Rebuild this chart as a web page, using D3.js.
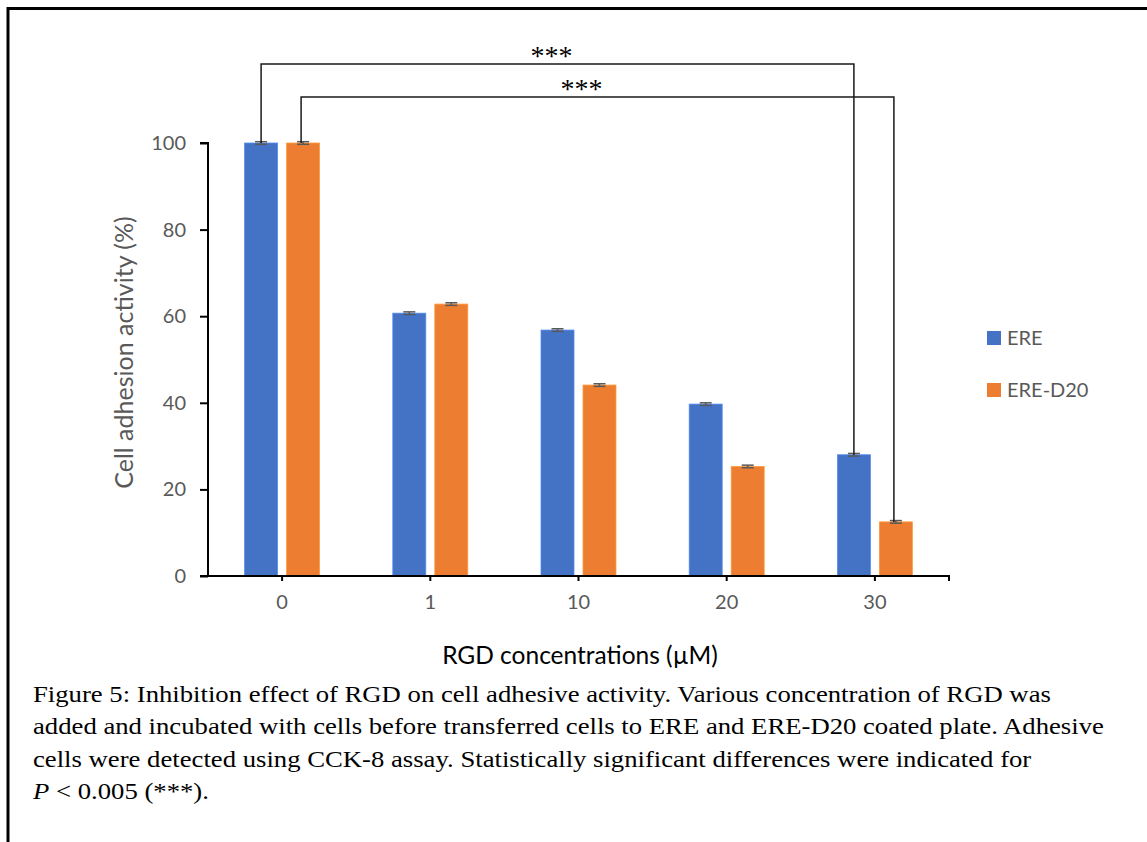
<!DOCTYPE html>
<html>
<head>
<meta charset="utf-8">
<script src="https://cdn.jsdelivr.net/npm/d3@7"></script>
<style>
  html, body { margin: 0; padding: 0; background: #fff; }
  svg { display: block; }
</style>
</head>
<body>
<svg id="chart" width="1147" height="842"></svg>
<script>
// ---- data ----
const categories = ["0", "1", "10", "20", "30"];
const seriesNames = ["ERE", "ERE-D20"];
const ereValues = [100, 60.7, 56.8, 39.7, 28.0];
const ereD20Values = [100, 62.8, 44.1, 25.3, 12.5];
const ereErrors = [0.3, 0.3, 0.3, 0.3, 0.3];
const ereD20Errors = [0.3, 0.3, 0.3, 0.3, 0.3];
const yTicks = [0, 20, 40, 60, 80, 100];
const seriesColors = ["#4472C4", "#ED7D31"];
const yTitle = "Cell adhesion activity (%)";
const xTitle = "RGD concentrations (µM)";
const sigLabel = "***";
// significance brackets: [series index, category] -> [series index, category]
const brackets = [
  { from: [0, "0"], to: [0, "30"] },
  { from: [1, "0"], to: [1, "30"] }
];
const captionLines = [
  "Figure 5: Inhibition effect of RGD on cell adhesive activity. Various concentration of RGD was",
  "added and incubated with cells before transferred cells to ERE and ERE-D20 coated plate. Adhesive",
  "cells were detected using CCK-8 assay. Statistically significant differences were indicated for"
];

const valuesBySeries = [ereValues, ereD20Values];
const errorsBySeries = [ereErrors, ereD20Errors];

const svg = d3.select("#chart");

// frame
svg.append("path")
  .attr("d", "M8,850 L8,8.5 L1160,8.5")
  .attr("fill", "none").attr("stroke", "#000").attr("stroke-width", 3);

const plotLeft = 208, plotRight = 949, plotTop = 143, plotBottom = 576;
const bracketLevels = [64, 97];
const bracketLabelDx = [-6, -16];

const x = d3.scaleBand().domain(categories).range([plotLeft, plotRight]).padding(0);
const xs = d3.scaleBand().domain(seriesNames).range([-37.5, 37.5]).paddingInner(0.2143);
const y = d3.scaleLinear().domain([0, 100]).range([plotBottom, plotTop]);

const barCenter = (si, cat) => x(cat) + x.bandwidth() / 2 + xs(seriesNames[si]) + xs.bandwidth() / 2;

// bars
seriesNames.forEach((s, si) => {
  const g = svg.append("g");
  g.selectAll("rect").data(categories).join("rect")
    .attr("x", c => x(c) + x.bandwidth() / 2 + xs(s))
    .attr("y", (c, i) => y(valuesBySeries[si][i]))
    .attr("width", xs.bandwidth())
    .attr("height", (c, i) => y(0) - y(valuesBySeries[si][i]))
    .attr("fill", seriesColors[si])
    .attr("stroke", d3.color(seriesColors[si]).brighter(0.6))
    .attr("stroke-width", 0.8);
  // error bars
  g.selectAll("g.err").data(categories).join("g").attr("class", "err").each(function (c, i) {
    const cx = barCenter(si, c);
    const v = valuesBySeries[si][i], e = errorsBySeries[si][i];
    const gg = d3.select(this);
    gg.append("line").attr("x1", cx).attr("x2", cx).attr("y1", y(v + e)).attr("y2", y(v - e))
      .attr("stroke", "#595959").attr("stroke-width", 1.5);
    [v + e, v - e].forEach(val => {
      gg.append("line").attr("x1", cx - 6).attr("x2", cx + 6).attr("y1", y(val)).attr("y2", y(val))
        .attr("stroke", "#595959").attr("stroke-width", 1.5);
    });
  });
});

// y axis
const yAxis = d3.axisLeft(y).tickValues(yTicks).tickSize(8).tickPadding(14).tickFormat(d3.format("d"));
const yg = svg.append("g").attr("transform", `translate(${plotLeft},0)`).call(yAxis);
yg.select(".domain").attr("stroke", "#000").attr("stroke-width", 2).attr("d", `M-8,${plotTop}H0V${plotBottom}`);
yg.selectAll(".tick line").attr("stroke", "#000").attr("stroke-width", 2);
yg.selectAll(".tick text").attr("fill", "#595959").style("font-family", "Lato, 'Open Sans', sans-serif").style("font-size", "20px");

// x axis
const xAxis = d3.axisBottom(x).tickSize(5).tickPadding(14);
const xg = svg.append("g").attr("transform", `translate(0,${plotBottom})`).call(xAxis);
xg.select(".domain").attr("stroke", "#000").attr("stroke-width", 2).attr("d", `M${plotLeft - 8},0H${plotRight}V5`);
xg.selectAll(".tick line").attr("stroke", "#000").attr("stroke-width", 2);
xg.selectAll(".tick text").attr("fill", "#595959").style("font-family", "Lato, 'Open Sans', sans-serif").style("font-size", "20px");

// axis titles
svg.append("text")
  .attr("transform", `translate(133,${(plotTop + plotBottom) / 2 - 7}) rotate(-90)`)
  .attr("text-anchor", "middle")
  .attr("fill", "#595959")
  .style("font-family", "Lato, 'Open Sans', sans-serif").style("font-size", "25px")
  .text(yTitle);
svg.append("text")
  .attr("x", 580).attr("y", 664)
  .attr("text-anchor", "middle")
  .attr("fill", "#000")
  .style("font-family", "Lato, 'Open Sans', sans-serif").style("font-size", "24.5px")
  .text(xTitle);

// legend
const legend = svg.append("g");
seriesNames.forEach((s, i) => {
  const ly = 331 + i * 52;
  legend.append("rect").attr("x", 987).attr("y", ly).attr("width", 14).attr("height", 14).attr("fill", seriesColors[i]);
  legend.append("text").attr("x", 1007).attr("y", ly + 14)
    .attr("fill", "#595959")
    .style("font-family", "Lato, 'Open Sans', sans-serif").style("font-size", "20px")
    .text(s);
});

// significance brackets
brackets.forEach((b, bi) => {
  const fi = categories.indexOf(b.from[1]), ti = categories.indexOf(b.to[1]);
  const x1 = barCenter(b.from[0], b.from[1]) - (b.from[0] === 1 ? 2 : 0);
  const x2 = barCenter(b.to[0], b.to[1]) - (b.to[0] === 1 ? 2 : 0);
  const y1 = y(valuesBySeries[b.from[0]][fi]);
  const y2 = y(valuesBySeries[b.to[0]][ti]);
  const level = bracketLevels[bi];
  svg.append("path")
    .attr("d", `M${x1},${y1}V${level}H${x2}V${y2}`)
    .attr("fill", "none").attr("stroke", "#1a1a1a").attr("stroke-width", 1.5);
  svg.append("text")
    .attr("x", (x1 + x2) / 2 + bracketLabelDx[bi]).attr("y", level + 1)
    .attr("text-anchor", "middle")
    .style("font-family", "'Liberation Serif', 'Times New Roman', serif").style("font-size", "28px")
    .attr("fill", "#000")
    .text(sigLabel);
});

// caption (slightly wide-set, as in the reference)
const cap = svg.append("g")
  .attr("transform", "translate(33,0) scale(1.1125,1)")
  .style("font-family", "'Liberation Serif', 'Times New Roman', serif").style("font-size", "24px").attr("fill", "#000");
captionLines.forEach((line, i) => {
  cap.append("text").attr("x", 0).attr("y", 702 + i * 32.3).text(line);
});
const last = cap.append("text").attr("x", 0).attr("y", 702 + 3 * 32.3);
last.append("tspan").style("font-style", "italic").text("P");
last.append("tspan").text(" < 0.005 (***).");
</script>
</body>
</html>
